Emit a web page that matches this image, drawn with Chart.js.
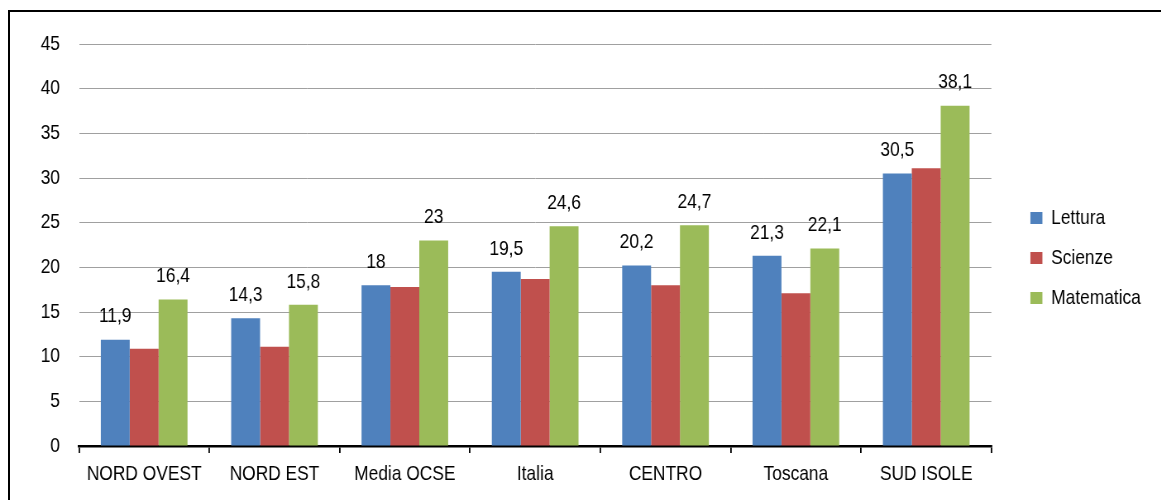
<!DOCTYPE html>
<html><head><meta charset="utf-8">
<script src="https://cdn.jsdelivr.net/npm/chart.js@4/dist/chart.umd.min.js"></script>
<style>
html,body{margin:0;padding:0;background:#fff;overflow:hidden}
#wrap{position:absolute;left:0;top:0;width:1161px;height:500px;overflow:hidden}
#frame{position:absolute;left:8px;top:10px;width:1200px;height:600px;border:2px solid #000;box-sizing:border-box;pointer-events:none}
#c{position:absolute;left:0;top:0;width:1404px;height:500px;transform:scaleX(0.827);transform-origin:0 0}
</style></head>
<body>
<div id="wrap"><canvas id="c" width="1404" height="500"></canvas></div>
<div id="frame"></div>
<script>
const categories = ["NORD OVEST","NORD EST","Media OCSE","Italia","CENTRO","Toscana","SUD ISOLE"];
const lettura = [11.9, 14.3, 18, 19.5, 20.2, 21.3, 30.5];
const scienze = [10.9, 11.1, 17.8, 18.7, 18.0, 17.1, 31.1];
const matematica = [16.4, 15.8, 23, 24.6, 24.7, 22.1, 38.1];
const yTicks = [0,5,10,15,20,25,30,35,40,45];

const FONT = "'Liberation Sans',Arial,sans-serif";
Chart.defaults.font.family = FONT;
Chart.defaults.font.size = 21;
Chart.defaults.color = '#000';

const labelPlugin = {
  id:'valueLabels',
  afterDatasetsDraw(chart){
    const ctx = chart.ctx;
    ctx.save();
    ctx.font = "21px " + FONT;
    ctx.fillStyle = '#000';
    ctx.textAlign = 'center';
    ctx.textBaseline = 'middle';
    chart.data.datasets.forEach((ds, di) => {
      if (!ds.showLabels) return;
      const meta = chart.getDatasetMeta(di);
      meta.data.forEach((bar, i) => {
        const v = ds.data[i];
        ctx.fillText(String(v).replace('.', ','), bar.x, bar.y - 23);
      });
    });
    ctx.restore();
  }
};

new Chart(document.getElementById('c'), {
  type:'bar',
  data:{
    labels: categories,
    datasets:[
      {label:'Lettura', data:lettura, backgroundColor:'#4F81BD', showLabels:true},
      {label:'Scienze', data:scienze, backgroundColor:'#C0504D', showLabels:false},
      {label:'Matematica', data:matematica, backgroundColor:'#9BBB59', showLabels:true}
    ]
  },
  options:{
    responsive:false,
    animation:false,
    devicePixelRatio:1,
    layout:{padding:{top:16, left:0, right:14.5, bottom:0}},
    datasets:{bar:{categoryPercentage:0.665, barPercentage:1}},
    plugins:{
      legend:{
        position:'right',
        labels:{boxWidth:14.5, boxHeight:12, padding:19, font:{size:21, family:FONT}, color:'#000'}
      },
      tooltip:{enabled:false}
    },
    scales:{
      x:{
        grid:{display:true, offset:true, drawOnChartArea:false, drawTicks:true, tickLength:7, color:'#000', lineWidth:1.8},
        border:{display:true, color:'#000', width:2.5},
        ticks:{padding:9, font:{size:21}, color:'#000', maxRotation:0, autoSkip:false},
        afterFit(s){ s.height = 54; }
      },
      x2:{
        position:'top', display:true,
        grid:{display:false, drawTicks:false}, border:{display:false},
        ticks:{display:false},
        afterFit(s){ s.height = 28; }
      },
      y:{
        min:0, max:45,
        afterBuildTicks(s){ s.ticks = yTicks.map(v=>({value:v})); },
        grid:{color:'#A0A0A0', lineWidth:1, drawTicks:false},
        border:{display:false},
        ticks:{padding:23, font:{size:21}, color:'#000'},
        afterFit(s){ s.width = 95.5; }
      },
      y2:{
        position:'right', display:true,
        grid:{display:false, drawTicks:false}, border:{display:false},
        ticks:{display:false},
        afterFit(s){ s.width = 28.2; }
      }
    }
  },
  plugins:[labelPlugin]
});
</script>
</body></html>
